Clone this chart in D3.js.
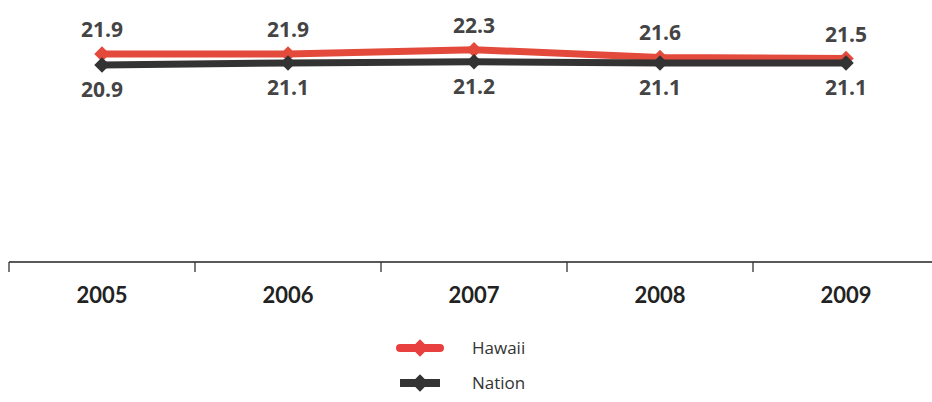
<!DOCTYPE html>
<html><head><meta charset="utf-8">
<script src="https://cdn.jsdelivr.net/npm/d3@7"></script>
<style>body{margin:0;background:#fff}svg{display:block}</style>
</head><body>
<svg id="c" width="932" height="402"></svg>
<script>
const years = ["2005","2006","2007","2008","2009"];
const hawaii = [21.9, 21.9, 22.3, 21.6, 21.5];
const nation = [20.9, 21.1, 21.2, 21.1, 21.1];
const seriesNames = ["Hawaii","Nation"];
const colors = ["#e34a3c","#333333"];

const svg = d3.select("#c");
const x = d3.scaleBand().domain(years).range([9, 939]);
const y = d3.scaleLinear().domain([3, 25]).range([262, 20]);

// axis
const ax = svg.append("g").attr("transform","translate(0,262)")
  .call(d3.axisBottom(x).tickSize(0).tickFormat(d=>d));
ax.select(".domain").attr("d","M9,0H932").attr("stroke","#222").attr("stroke-width",1.3);
ax.selectAll(".tick text").attr("dy",0).attr("y",41)
  .attr("font-family","Lato").attr("font-weight","bold").attr("font-size",22).attr("fill","#222");
svg.append("g").selectAll("line").data(years).join("line")
  .attr("x1",d=>x(d)).attr("x2",d=>x(d)).attr("y1",262).attr("y2",272)
  .attr("stroke","#333").attr("stroke-width",1.3);

function drawSeries(vals, color, labelAbove){
  const line = d3.line().x((d,i)=>x(years[i])+x.bandwidth()/2).y(d=>y(d));
  svg.append("path").attr("d", line(vals)).attr("fill","none").attr("stroke",color)
    .attr("stroke-width",7).attr("stroke-linejoin","round");
  svg.append("g").selectAll("path").data(vals).join("path")
    .attr("transform",(d,i)=>`translate(${x(years[i])+x.bandwidth()/2},${y(d)}) rotate(45)`)
    .attr("d", d3.symbol().type(d3.symbolSquare).size(120)())
    .attr("fill",color);
  svg.append("g").selectAll("text").data(vals).join("text")
    .attr("x",(d,i)=>x(years[i])+x.bandwidth()/2)
    .attr("y",d=> labelAbove ? y(d)-17 : y(d)+32)
    .attr("text-anchor","middle").attr("font-family","Open Sans").attr("font-weight","700")
    .attr("font-size",21).attr("fill","#444").text(d=>d.toFixed(1));
}
drawSeries(hawaii, colors[0], true);
drawSeries(nation, colors[1], false);

// legend
const lg = svg.append("g");
seriesNames.forEach((n,i)=>{
  const ly = 348 + i*35;
  lg.append("line").attr("x1",400).attr("x2",440).attr("y1",ly).attr("y2",ly)
    .attr("stroke", i===0?"#e8403f":"#333").attr("stroke-width",8).attr("stroke-linecap",i===0?"round":"butt");
  lg.append("path").attr("transform",`translate(420,${ly}) rotate(45)`)
    .attr("d", d3.symbol().type(d3.symbolSquare).size(150)()).attr("fill", i===0?"#e8403f":"#333");
  lg.append("text").attr("x",472).attr("y",ly+6).attr("font-family","Open Sans")
    .attr("font-size",17).attr("fill","#333").text(n);
});
</script>
</body></html>
